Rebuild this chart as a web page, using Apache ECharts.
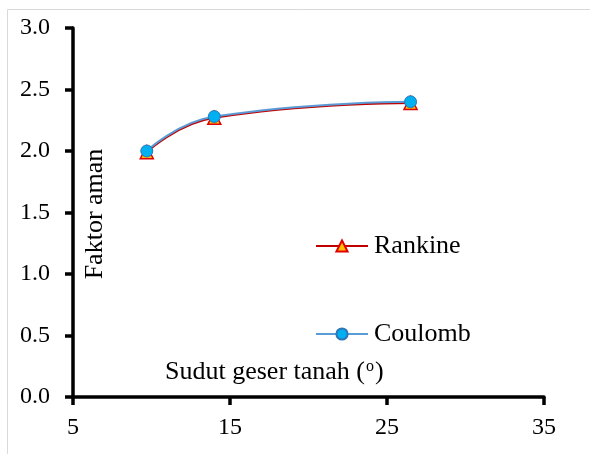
<!DOCTYPE html>
<html>
<head>
<meta charset="utf-8">
<script src="https://cdn.jsdelivr.net/npm/echarts@6/dist/echarts.min.js"></script>
<style>html,body{margin:0;padding:0;background:#fff}#c{width:590px;height:454px}</style>
</head>
<body>
<div id="c"></div>
<script>
const xValues = [9.7, 14.0, 26.5];
const rankine = [1.99, 2.27, 2.39];
const coulomb = [2.00, 2.28, 2.40];
const xTicks = [5, 15, 25, 35];
const yTicks = [0.0, 0.5, 1.0, 1.5, 2.0, 2.5, 3.0];

const chart = echarts.init(document.getElementById('c'));
const font = 'Liberation Serif, Times New Roman, serif';
chart.setOption({
  animation: false,
  backgroundColor: '#fff',
  grid: {left: 73, right: 46, top: 28, bottom: 57, containLabel: false},
  xAxis: {
    type: 'value', min: xTicks[0], max: xTicks[xTicks.length-1], interval: 10,
    axisLine: {lineStyle: {color: '#000', width: 3.5}},
    axisTick: {show: true, length: 8, lineStyle: {color: '#000', width: 3.5}},
    axisLabel: {fontFamily: font, fontSize: 24, color: '#000', margin: 19},
    splitLine: {show: false}
  },
  yAxis: {
    type: 'value', min: yTicks[0], max: yTicks[yTicks.length-1], interval: 0.5,
    axisLine: {show: true, lineStyle: {color: '#000', width: 3.5}},
    axisTick: {show: true, length: 8, lineStyle: {color: '#000', width: 3.5}},
    axisLabel: {fontFamily: font, fontSize: 24, color: '#000', margin: 23,
      formatter: v => v.toFixed(1)},
    splitLine: {show: false}
  },
  legend: {
    orient: 'vertical', left: 310, top: 228, itemGap: 62,
    itemWidth: 52, itemHeight: 14,
    textStyle: {fontFamily: font, fontSize: 26, color: '#000', padding: [0,0,0,1]},
    data: ['Rankine', 'Coulomb']
  },
  series: [
    {
      name: 'Rankine', type: 'line', smooth: true,
      data: xValues.map((x, i) => [x, rankine[i]]),
      symbol: 'triangle', symbolSize: 13,
      lineStyle: {color: '#C00000', width: 2},
      itemStyle: {color: '#FFC000', borderColor: '#E00000', borderWidth: 1.5}
    },
    {
      name: 'Coulomb', type: 'line', smooth: true,
      data: xValues.map((x, i) => [x, coulomb[i]]),
      symbol: 'circle', symbolSize: 12,
      lineStyle: {color: '#5B9BD5', width: 2},
      itemStyle: {color: '#00B0F0', borderColor: '#2E75B6', borderWidth: 1}
    }
  ],
  graphic: [
    {type: 'rect', left: 5, top: 7, shape: {width: 620, height: 470},
      style: {fill: 'none', stroke: '#d9d9d9', lineWidth: 1}, silent: true},
    {type: 'text', x: 95, y: 214, rotation: Math.PI/2,
      style: {text: 'Faktor aman', font: '26px ' + font, fill: '#000', align: 'center', verticalAlign: 'middle'}},
    {type: 'text', x: 165, y: 372,
      style: {text: '{a|Sudut geser tanah (}{s|o}{a|)}', verticalAlign: 'middle',
        rich: {a: {font: '26px ' + font, fill: '#000'}, s: {font: '16px ' + font, fill: '#000', verticalAlign: 'top', padding:[0,1,10,1]}}}}
  ]
});
</script>
</body>
</html>
